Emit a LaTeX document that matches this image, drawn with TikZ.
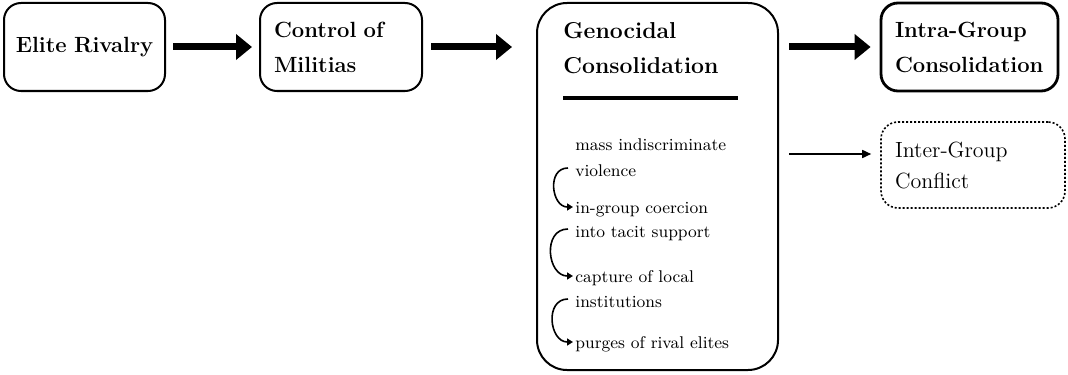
\documentclass[tikz,border=0pt]{standalone}
\usepackage{tikz}
\usetikzlibrary{arrows.meta}
\tikzset{
  stage/.style={draw,line width=1pt,rounded corners=8.5pt,minimum height=44pt,inner xsep=7pt,align=left,font=\bfseries\fontsize{11}{17.5}\selectfont},
  item/.style={anchor=base west,inner sep=0pt,font=\fontsize{8.5}{10}\selectfont},
  bigarrow/.style={line width=3.5pt,-{Triangle[length=8pt,width=12.5pt]}},
  curl/.style={line width=0.8pt,-{Triangle[length=3pt,width=3.5pt]}},
}
\begin{document}
\begin{tikzpicture}[x=0.5pt,y=-0.5pt]
    \useasboundingbox (0,0) rectangle (1068,374);
    \node [stage,inner xsep=3pt,text width=74.5pt,align=center] (elite) at (84.5,47) {Elite Rivalry};
    \node [stage,text width=67pt] (militia) at (341,47) {Control of\\Militias};
    \node [draw,line width=1pt,rounded corners=15pt,minimum width=120.5pt,minimum height=183.5pt] (geno) at (657.5,186.5) {};
    \node [anchor=north west,inner sep=0pt,align=left,font=\bfseries\fontsize{11.5}{17.5}\selectfont] (genotitle) at (563,22) {Genocidal\\Consolidation};
    \draw [line width=2pt] ([yshift=-12pt]genotitle.south west) -- ++(175,0);
    \foreach \name/\y/\txt in {l1/150/mass indiscriminate,l2/176/violence,l3/213/in-group coercion,l4/237/into tacit support,l5/282/capture of local,l6/307/institutions,l7/348/purges of rival elites}{
        \node [item] (\name) at (575,\y) {\txt};
    }
    \foreach \a/\b in {l2/l3,l4/l5,l6/l7}{
        \draw [curl] ([xshift=-3.5pt,yshift=4pt]\a.base west) to [out=180,in=180,looseness=1.4] ([xshift=-1pt,yshift=3pt]\b.base west);
    }
    \node [stage,line width=1.4pt,text width=74.5pt] (intra) at (969.5,47) {Intra-Group\\Consolidation};
    \node [stage,line width=0.8pt,dash pattern=on 1pt off 1pt,font=\fontsize{11}{15.5}\selectfont,minimum height=43pt,text width=78pt] (inter) at (973,165) {Inter-Group\\Conflict};
    \draw [bigarrow,shorten <=3.5pt,shorten >=3.5pt] (elite) -- (militia);
    \draw [bigarrow,shorten <=4pt,shorten >=12pt] (militia.east) -- (militia.east -| geno.west);
    \draw [bigarrow,shorten <=5pt,shorten >=4.5pt] (intra.west -| geno.east) -- (intra.west);
    \draw [line width=0.8pt,-{Triangle[length=4.5pt,width=4pt]},shorten <=5pt,shorten >=4.5pt] ([yshift=5.5pt]inter.west -| geno.east) -- ([yshift=5.5pt]inter.west);
\end{tikzpicture}
\end{document}
